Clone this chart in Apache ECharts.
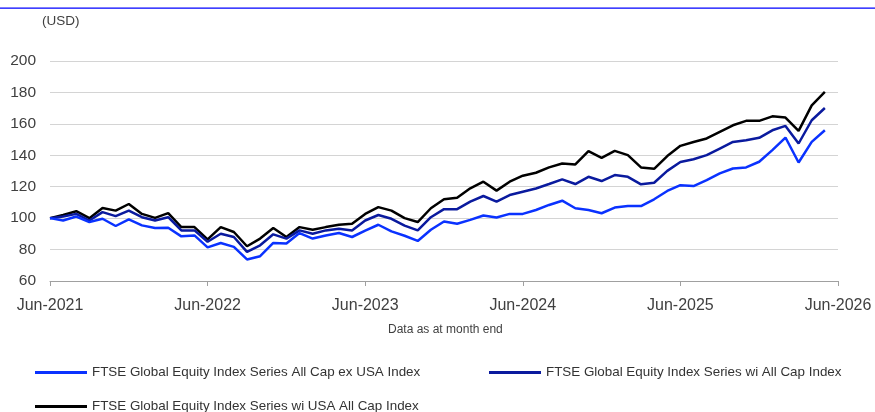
<!DOCTYPE html>
<html lang="en">
<head>
    <meta charset="UTF-8">
    <title>FTSE Global Equity Index Series</title>
    <script type="text/javascript" src="https://cdn.jsdelivr.net/npm/echarts@6/dist/echarts.min.js"></script>
    <style>
        html, body { margin: 0; padding: 0; background: #fff; }
        #charts { width: 875px; height: 412px; }
    </style>
</head>
<body>
<div id="charts"></div>
<script>
    // month end data, Jun-2021 .. May-2026
    var startYear = 2021
    var endYear = 2026
    var exUsa = [100, 98.5, 101, 97.5, 99.6, 95, 99.2, 95.4, 93.7, 93.9, 88.4, 89,
        81.4, 84.2, 81.7, 73.7, 75.8, 84.2, 83.8, 90.5, 87, 89, 90.5, 88,
        92, 95.8, 91.6, 88.8, 85.5, 92.6, 97.9, 96.4, 98.9, 101.7, 100.4, 102.7,
        102.7, 105.2, 108.4, 111.1, 106.3, 105.2, 103.1, 106.7, 107.7, 107.7, 112, 117.3,
        121, 120.4, 124.2, 128.5, 131.6, 132.3, 135.9, 143.3, 151.3, 135.4, 148.5, 155.9]
    var allCap = [100, 101, 102.7, 98.5, 103.8, 101.3, 104.8, 100.6, 98.5, 100.6, 92.2, 92.2,
        85, 90.1, 88, 78.5, 82.7, 89.7, 87, 92.2, 90.1, 92.2, 93.3, 92.2,
        98.5, 102, 99.6, 95.2, 92.2, 100.6, 105.7, 105.7, 110.5, 114.1, 110.5, 114.7,
        116.8, 118.9, 121.7, 124.7, 121.7, 126.3, 123.6, 127.4, 126.3, 121.5, 122.5, 130.1,
        135.7, 137.5, 140.1, 144.3, 148.5, 149.6, 151.1, 155.9, 158.7, 147.5, 162.3, 170.1]
    var usaAllCap = [100, 102, 104.4, 100, 106.5, 104.8, 109, 102.7, 100.2, 103.2, 94.3, 94.3,
        86.5, 94.3, 91.2, 82.1, 87, 93.7, 88, 94.3, 92.6, 94.3, 95.8, 96.4,
        102.7, 107, 104.8, 100, 97.5, 106.3, 112, 113, 119, 123.2, 117.5, 123.2,
        127, 128.9, 132.3, 134.8, 134.2, 142.6, 138.4, 142.8, 140.1, 132.3, 131.4, 139.5,
        146, 148.5, 150.7, 154.9, 159.1, 161.9, 161.9, 164.8, 164, 155.5, 171.8, 180.3]
    var names = ['FTSE Global Equity Index Series All Cap ex USA Index',
        'FTSE Global Equity Index Series wi All Cap Index',
        'FTSE Global Equity Index Series wi USA All Cap Index']
    var colors = ['#0a32ff', '#0a1a9e', '#000000']

    var months = ['Jan', 'Feb', 'Mar', 'Apr', 'May', 'Jun', 'Jul', 'Aug', 'Sep', 'Oct', 'Nov', 'Dec']
    var cats = []
    for (var y = startYear; y <= endYear; y++) {
        for (var m = 0; m < 12; m++) {
            if (y == startYear && m < 5) continue
            if (y == endYear && m > 5) break
            cats.push(months[m] + '-' + y)
        }
    }

    var font = 'Arial, "Liberation Sans", sans-serif'
    var chart = echarts.init(document.getElementById('charts'), null, {renderer: 'canvas'})
    var legendAt = function (i, left, top) {
        return {
            data: [names[i]], left: left, top: top, padding: 0,
            itemWidth: 52, itemHeight: 3, icon: 'rect',
            textStyle: {fontFamily: font, fontSize: 13.4, color: '#333'}
        }
    }
    var series = [exUsa, allCap, usaAllCap].map(function (d, i) {
        return {
            name: names[i], type: 'line', data: d, symbol: 'none',
            lineStyle: {width: 2.5, color: colors[i]}, itemStyle: {color: colors[i]},
            z: 3 + (2 - i)
        }
    })
    chart.setOption({
        animation: false,
        grid: {left: 50, right: 37, top: 61, bottom: 131},
        graphic: [
            {type: 'rect', shape: {x: 0, y: 7.5, width: 875, height: 1.2}, style: {fill: '#0000ff'}},
            {type: 'text', left: 42, top: 14, style: {text: '(USD)', font: '13.5px ' + font, fill: '#404040'}},
            {type: 'text', left: 388, top: 324, style: {text: 'Data as at month end', font: '12px ' + font, fill: '#404040'}}
        ],
        legend: [legendAt(0, 35, 366), legendAt(1, 489, 366), legendAt(2, 35, 400)],
        xAxis: {
            type: 'category', data: cats, boundaryGap: false,
            axisLine: {lineStyle: {color: '#a0a0a0'}},
            axisTick: {interval: 11, length: 5, lineStyle: {color: '#a0a0a0'}},
            axisLabel: {interval: 11, margin: 17, fontFamily: font, fontSize: 16, color: '#404040'}
        },
        yAxis: {
            type: 'value', min: 60, max: 200, interval: 20,
            axisLine: {show: false}, axisTick: {show: false},
            axisLabel: {margin: 14, fontFamily: font, fontSize: 15.5, color: '#404040'},
            splitLine: {lineStyle: {color: '#d4d4d4'}}
        },
        series: series
    })
</script>
</body>
</html>
